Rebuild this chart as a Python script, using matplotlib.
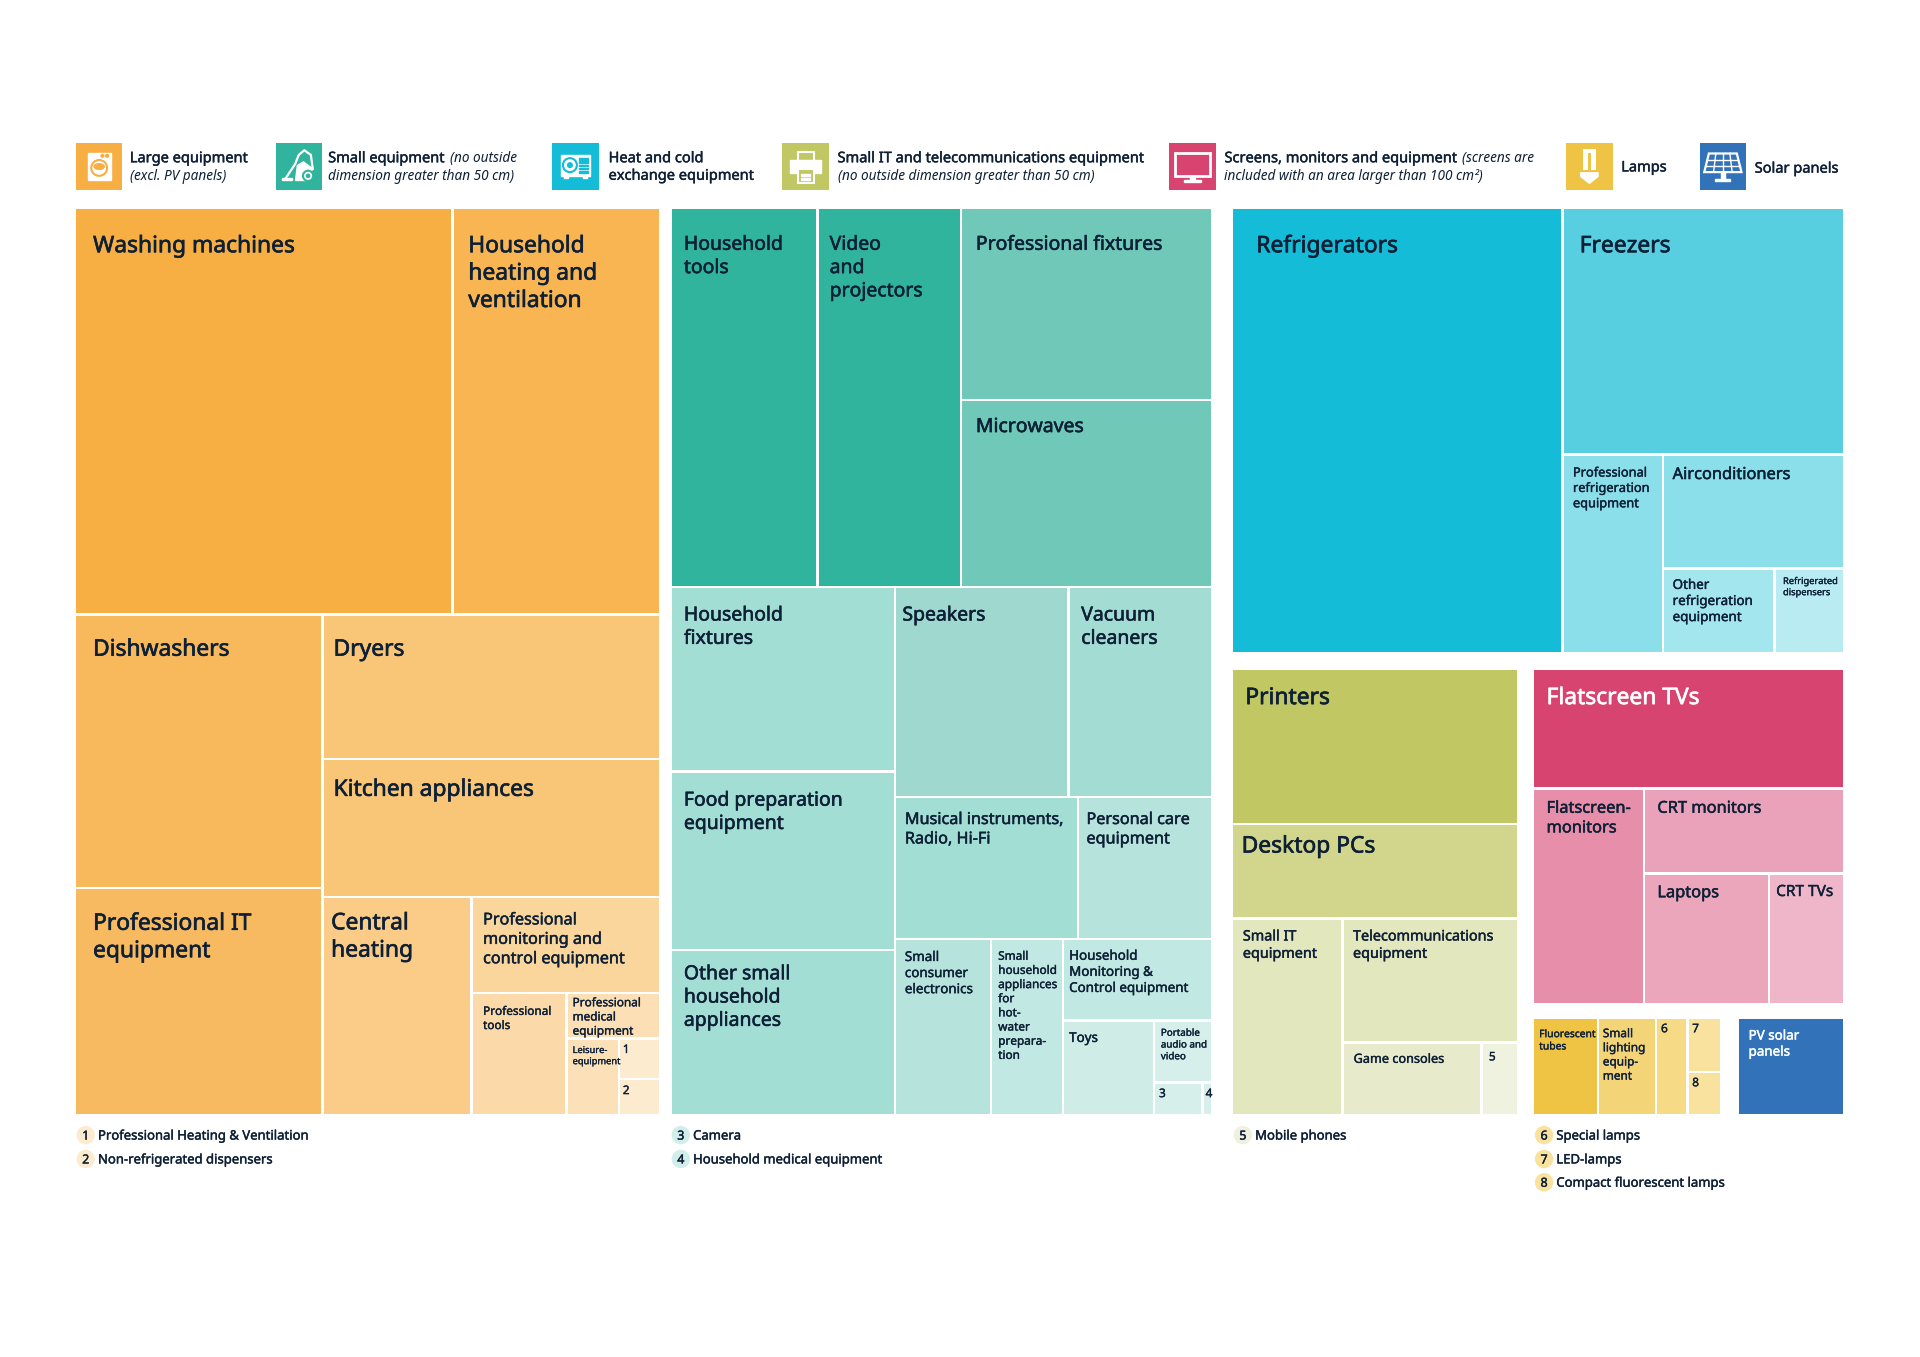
"""
Treemap of e-waste categories, one block per collection category
"""

import matplotlib
matplotlib.use("Agg")
import matplotlib.pyplot as plt
import matplotlib.patheffects as pe
from matplotlib.patches import Rectangle, Circle, Polygon, Ellipse

plt.rcParams['font.family'] = ['Noto Sans', 'DejaVu Sans']

# Data (areas, arbitrary units)
large_labels = ["Washing machines", "Household\nheating and\nventilation", "Dishwashers",
                "Professional IT\nequipment", "Dryers", "Kitchen appliances", "Central\nheating",
                "Professional\nmonitoring and\ncontrol equipment", "Professional\ntools",
                "Professional\nmedical\nequipment", "Leisure-\nequipment", "1", "2"]
large_values = [101.8, 55.8, 45.0, 37.2, 32.4, 30.9, 21.6, 12.0, 7.7, 2.8, 2.67, 1.07, 0.94]

small_labels = ["Household\ntools", "Video\nand\nprojectors", "Professional fixtures", "Microwaves",
                "Household\nfixtures", "Food preparation\nequipment", "Other small\nhousehold\nappliances",
                "Speakers", "Vacuum\ncleaners", "Musical instruments,\nRadio, Hi-Fi", "Personal care\nequipment",
                "Small\nconsumer\nelectronics", "Small\nhousehold\nappliances\nfor\nhot-\nwater\nprepara-\ntion",
                "Household\nMonitoring &\nControl equipment", "Toys", "Portable\naudio and\nvideo", "3", "4"]
small_values = [36.7, 36.2, 31.8, 31.1, 27.5, 26.6, 24.5, 24.3, 20.0, 17.3, 12.6, 11.2, 8.44, 8.05,
                5.70, 2.35, 1.03, 0.18]

heat_labels = ["Refrigerators", "Freezers", "Professional\nrefrigeration\nequipment", "Airconditioners",
               "Other\nrefrigeration\nequipment", "Refrigerated\ndispensers"]
heat_values = [97.2, 45.8, 13.2, 13.7, 6.2, 3.8]

it_labels = ["Printers", "Desktop PCs", "Small IT\nequipment", "Telecommunications\nequipment",
             "Game consoles", "5"]
it_values = [29.1, 17.9, 14.3, 14.4, 6.64, 1.67]

screen_labels = ["Flatscreen TVs", "Flatscreen-\nmonitors", "CRT monitors", "Laptops", "CRT TVs"]
screen_values = [24.4, 15.7, 11.3, 10.8, 6.4]

lamp_labels = ["Fluorescent\ntubes", "Small\nlighting\nequip-\nment", "6", "7", "8"]
lamp_values = [4.06, 3.71, 1.99, 1.18, 0.93]

solar_labels = ["PV solar\npanels"]
solar_values = [6.63]

legend_names = ["Large equipment", "Small equipment", "Heat and cold\nexchange equipment",
                "Small IT and telecommunications equipment", "Screens, monitors and equipment", "Lamps",
                "Solar panels"]
footnotes = [["1", "Professional Heating & Ventilation"], ["2", "Non-refrigerated dispensers"],
             ["3", "Camera"], ["4", "Household medical equipment"], ["5", "Mobile phones"],
             ["6", "Special lamps"], ["7", "LED-lamps"], ["8", "Compact fluorescent lamps"]]

# Layout: the picture is measured at 1568 px wide, S scales up to 1920
S = 1920 / 1568
DARK = "#0e2036"
GAP = 1.25  # half of the white gap between cells, px
A, B, C, D, E, F = 22.8, 19.4, 16.2, 13.4, 11.8, 9.3

# split trees, "h" = side by side, "v" = stacked, ints are leaf indexes
large_tree = ("v", [("h", [0, 1]),
                    ("h", [("v", [2, 3]),
                           ("v", [4, 5, ("h", [6, ("v", [7, ("h", [8, ("v", [9, ("h", [10, ("v", [11, 12])])])])])])])])])
small_tree = ("v", [("h", [0, 1, ("v", [2, 3])]),
                    ("h", [("v", [4, 5, 6]),
                           ("v", [("h", [7, 8]), ("h", [9, 10]),
                                  ("h", [11, 12, ("v", [13, ("h", [14, ("v", [15, ("h", [16, 17])])])])])])])])
heat_tree = ("h", [0, ("v", [1, ("h", [2, ("v", [3, ("h", [4, 5])])])])])
it_tree = ("v", [0, 1, ("h", [2, ("v", [3, ("h", [4, 5])])])])
screen_tree = ("v", [0, ("h", [1, ("v", [2, ("h", [3, 4])])])])
lamp_tree = ("h", [0, 1, 2, ("v", [3, 4])])
solar_tree = 0

large_colors = ["#F7AE42", "#F8B552", "#F8B95C", "#F8BA60", "#F9C677", "#F9C678", "#FACC87", "#FBD69C",
                "#FBD9A8", "#FCDFB5", "#FCE0B7", "#FDEBD0", "#FDEBD0"]
small_colors = ["#31B49D", "#31B49D", "#6FC8B8", "#6FC8B8", "#A3DED5", "#A3DED5", "#A3DED5", "#9ED8CF",
                "#A3DCD2", "#A3DED5", "#B6E3DC", "#B6E3DC", "#C1E8E2", "#C1E8E2", "#CFECE7", "#D6EFEB",
                "#D6EFEB", "#D6EFEB"]
heat_colors = ["#14BCD8", "#58CFE1", "#8ADFEA", "#8ADFEA", "#A3E6EE", "#B8EBF2"]
it_colors = ["#C0C763", "#D1D68C", "#E3E7BE", "#E3E7BE", "#E8EBCB", "#F0F2E0"]
screen_colors = ["#D74470", "#E68EAA", "#E9A2BA", "#EBA6BC", "#EEB6C8"]
lamp_colors = ["#EFC445", "#F3D477", "#F6DA86", "#F9E29E", "#F9E29E"]
solar_colors = ["#3272B8"]

large_sizes = [A, A, A, A, A, A, A, C, E, E, F, E, E]
small_sizes = [B, B, B, B, B, B, B, B, B, C, C, D, E, D, D, F + 0.5, E, E]
heat_sizes = [A, A, E + 1, D + 3, D, F]
it_sizes = [A, A, D + 1, D + 1, D - 0.7, E]
screen_sizes = [A, D + 3, D + 3, D + 3, D + 2]
lamp_sizes = [F + 1, E, E, E, E]
solar_sizes = [D]

# label offsets from the top left corner of a cell, first baseline
large_pads = [(14, 35), (13, 35), (14, 33.5), (14, 34), (9, 33.5), (9, 30), (7, 26.5), (9.5, 22.5), (9.5, 18),
              (5, 11), (5, 12), (3, 12), (3, 12.5)]
small_pads = [(10, 33), (10, 33), (12, 33), (12, 26), (10, 27.5), (10, 28), (10, 24), (6, 27.5), (10.5, 27.5),
              (8, 22), (7, 22), (8, 18), (6, 17), (5, 17), (5, 17.5), (5.5, 12.5), (4, 12), (2.5, 12)]
heat_pads = [(19, 35), (14, 35), (8.5, 18), (8, 20), (8, 16.5), (7, 12.5)]
it_pads = [(10, 28), (7, 23.5), (8, 18), (8.5, 18), (9, 16.5), (6, 14.5)]
screen_pads = [(10, 28), (10, 20), (11, 20), (11, 19.5), (6, 18.5)]
lamp_pads = [(4, 15), (4, 15), (4, 11), (4, 11), (4, 11.5)]
solar_pads = [(8, 17)]

# outer frames x0, y0, x1, y1
large_box = (62, 171, 538, 910)
small_box = (548.5, 171, 989, 910)
heat_box = (1007, 171, 1505, 532.5)
it_box = (1007, 547, 1238.5, 910)
screen_box = (1253, 547, 1505, 819)
lamp_box = (1253, 832, 1405, 910)
solar_box = (1420, 832, 1505, 910)


def heavy(size, color=DARK):
    """Thin outline, the installed font has no medium weight"""
    return [pe.withStroke(linewidth=0.018 * size + 0.05, foreground=color)]


def node_total(node, values):
    """Sum of the values below a tree node"""
    if isinstance(node, int):
        return values[node]
    return sum(node_total(c, values) for c in node[1])


def layout(node, values, box, out):
    """Slice and dice: split the box by child totals"""
    if isinstance(node, int):
        out[node] = box
        return
    x0, y0, x1, y1 = box
    total = node_total(node, values)
    pos = x0 if node[0] == "h" else y0
    for child in node[1]:
        frac = node_total(child, values) / total
        if node[0] == "h":
            nxt = pos + frac * (x1 - x0)
            layout(child, values, (pos, y0, nxt, y1), out)
        else:
            nxt = pos + frac * (y1 - y0)
            layout(child, values, (x0, pos, x1, nxt), out)
        pos = nxt


def put_text(ax, x, y, text, size, color=DARK, step=1.2):
    """Multi line text with a fixed line step, y is the first baseline (px)"""
    for i, line in enumerate(text.split("\n")):
        ax.text(x, y + i * step * size, line, fontsize=size * 0.72, color=color, ha="left", va="baseline",
                path_effects=heavy(size, color))


def draw_block(ax, tree, values, labels, colors, sizes, pads, box, white=()):
    rects = {}
    layout(tree, values, box, rects)
    for i, (x0, y0, x1, y1) in rects.items():
        # only inner edges get the white gap, the block keeps its outer frame
        left = x0 * S + (GAP if x0 > box[0] + 0.01 else 0)
        top = y0 * S + (GAP if y0 > box[1] + 0.01 else 0)
        right = x1 * S - (GAP if x1 < box[2] - 0.01 else 0)
        bottom = y1 * S - (GAP if y1 < box[3] - 0.01 else 0)
        ax.add_patch(Rectangle((left, top), right - left, bottom - top, facecolor=colors[i], linewidth=0))
        col = "white" if i in white else DARK
        put_text(ax, (x0 + pads[i][0]) * S, (y0 + pads[i][1]) * S, labels[i], sizes[i], color=col)


def icon_washer(ax, x, y, s, bg):
    ax.add_patch(Rectangle((x + .25 * s, y + .2 * s), .5 * s, .6 * s, color="white"))
    ax.add_patch(Circle((x + .5 * s, y + .53 * s), .17 * s, facecolor="white", edgecolor=bg, lw=1.5))
    ax.add_patch(Ellipse((x + .5 * s, y + .5 * s), .22 * s, .12 * s, color=bg))
    ax.add_patch(Circle((x + .57 * s, y + .27 * s), .03 * s, color=bg))
    ax.add_patch(Circle((x + .67 * s, y + .27 * s), .03 * s, color=bg))


def icon_vacuum(ax, x, y, s, bg):
    ax.plot([x + .2 * s, x + .42 * s, x + .5 * s, x + .62 * s, x + .76 * s, x + .8 * s],
            [y + .78 * s, y + .45 * s, y + .25 * s, y + .15 * s, y + .25 * s, y + .55 * s], color="white", lw=1.6)
    ax.add_patch(Rectangle((x + .15 * s, y + .74 * s), .2 * s, .05 * s, color="white"))
    ax.add_patch(Polygon([(x + .43 * s, y + .8 * s), (x + .47 * s, y + .48 * s), (x + .6 * s, y + .4 * s),
                          (x + .8 * s, y + .55 * s), (x + .66 * s, y + .8 * s)], color="white"))
    ax.add_patch(Circle((x + .7 * s, y + .7 * s), .11 * s, facecolor="white", edgecolor=bg, lw=1.5))
    ax.add_patch(Circle((x + .7 * s, y + .7 * s), .035 * s, color=bg))


def icon_ac(ax, x, y, s, bg):
    ax.add_patch(Rectangle((x + .18 * s, y + .25 * s), .64 * s, .45 * s, color="white"))
    ax.add_patch(Circle((x + .38 * s, y + .47 * s), .15 * s, facecolor="white", edgecolor=bg, lw=1.5))
    ax.add_patch(Circle((x + .38 * s, y + .47 * s), .05 * s, color=bg))
    ax.add_patch(Rectangle((x + .25 * s, y + .7 * s), .08 * s, .05 * s, color="white"))
    ax.add_patch(Rectangle((x + .67 * s, y + .7 * s), .08 * s, .05 * s, color="white"))
    for k in range(5):
        ax.add_patch(Rectangle((x + .58 * s, y + (.32 + k * .07) * s), .18 * s, .03 * s, color=bg))


def icon_printer(ax, x, y, s, bg):
    ax.add_patch(Rectangle((x + .33 * s, y + .18 * s), .34 * s, .2 * s, facecolor=bg, edgecolor="white", lw=1.5))
    ax.add_patch(Rectangle((x + .17 * s, y + .36 * s), .66 * s, .28 * s, color="white"))
    ax.add_patch(Rectangle((x + .33 * s, y + .55 * s), .34 * s, .3 * s, facecolor=bg, edgecolor="white", lw=1.5))
    ax.add_patch(Rectangle((x + .4 * s, y + .66 * s), .2 * s, .04 * s, color="white"))
    ax.add_patch(Rectangle((x + .4 * s, y + .74 * s), .2 * s, .04 * s, color="white"))


def icon_screen(ax, x, y, s, bg):
    ax.add_patch(Rectangle((x + .13 * s, y + .2 * s), .74 * s, .5 * s, facecolor=bg, edgecolor="white", lw=2))
    ax.add_patch(Rectangle((x + .45 * s, y + .7 * s), .1 * s, .08 * s, color="white"))
    ax.add_patch(Rectangle((x + .32 * s, y + .78 * s), .36 * s, .05 * s, color="white"))


def icon_lamp(ax, x, y, s, bg):
    ax.add_patch(Rectangle((x + .36 * s, y + .12 * s), .28 * s, .46 * s, facecolor="white", lw=0))
    ax.add_patch(Rectangle((x + .46 * s, y + .2 * s), .08 * s, .38 * s, facecolor=bg, lw=0))
    ax.add_patch(Polygon([(x + .3 * s, y + .62 * s), (x + .7 * s, y + .62 * s), (x + .7 * s, y + .72 * s),
                          (x + .5 * s, y + .88 * s), (x + .3 * s, y + .72 * s)], facecolor="white", lw=0))


def icon_solar(ax, x, y, s, bg):
    ax.add_patch(Polygon([(x + .2 * s, y + .22 * s), (x + .8 * s, y + .22 * s), (x + .9 * s, y + .62 * s),
                          (x + .1 * s, y + .62 * s)], facecolor=bg, edgecolor="white", lw=1.6))
    for k in range(1, 4):
        ax.plot([x + (.2 + k * .15) * s, x + (.1 + k * .2) * s], [y + .22 * s, y + .62 * s], color="white", lw=1)
    for k in range(1, 3):
        ax.plot([x + (.2 - k * .033) * s, x + (.8 + k * .033) * s], [y + (.22 + k * .133) * s] * 2, color="white", lw=1)
    ax.add_patch(Rectangle((x + .46 * s, y + .62 * s), .08 * s, .14 * s, color="white"))
    ax.add_patch(Rectangle((x + .34 * s, y + .76 * s), .32 * s, .05 * s, color="white"))


def draw_legend(ax):
    xs = [62, 225, 451, 639, 955, 1279, 1388]
    text_xs = [106, 268, 497, 684, 1000, 1324, 1433]
    cols = ["#F7AE42", "#31B49D", "#14BCD8", "#C0C763", "#D74470", "#EFC445", "#3272B8"]
    icons = [icon_washer, icon_vacuum, icon_ac, icon_printer, icon_screen, icon_lamp, icon_solar]
    notes = ["(excl. PV panels)", "dimension greater than 50 cm)", None, "(no outside dimension greater than 50 cm)",
             "included with an area larger than 100 cm²)", None, None]
    inline = [None, "(no outside", None, None, "(screens are", None, None]
    fs = 14.6
    renderer = ax.figure.canvas.get_renderer()
    for i, name in enumerate(legend_names):
        s = 38 * S
        ax.add_patch(Rectangle((xs[i] * S, 117 * S), s, s, color=cols[i], lw=0))
        icons[i](ax, xs[i] * S, 117 * S, s, cols[i])
        tx = text_xs[i] * S
        if i in (5, 6):
            put_text(ax, tx, (140 if i == 5 else 141) * S, name, fs)
        elif i == 2:
            put_text(ax, tx, 132.5 * S, name, fs)
        else:
            t = ax.text(tx, 132.5 * S, name, fontsize=fs * 0.72, color=DARK, va="baseline", path_effects=heavy(fs))
            if inline[i]:
                bb = t.get_window_extent(renderer)
                ax.text(bb.x1 + 5, 132.5 * S, inline[i], fontsize=(fs - 1) * 0.72, color=DARK, fontstyle="italic",
                        va="baseline")
            ax.text(tx, 147 * S, notes[i] or "", fontsize=(fs - 1) * 0.72, color=DARK, fontstyle="italic",
                    va="baseline")


def draw_footnotes(ax):
    spots = [(70, 927), (70, 946.5), (556, 927), (556, 946.5), (1015, 927), (1261, 927), (1261, 946.5), (1261, 965.5)]
    tints = ["#FDEBD0", "#FDEBD0", "#D2EEEA", "#D2EEEA", "#EFF1DE", "#F9E29E", "#F9E29E", "#F9E29E"]
    for (num, name), (cx, cy), tint in zip(footnotes, spots, tints):
        ax.add_patch(Circle((cx * S, cy * S), 7.5 * S, color=tint, lw=0))
        ax.text(cx * S, cy * S + 1, num, fontsize=12.5 * 0.72, color=DARK, ha="center", va="center",
                path_effects=heavy(12.5))
        ax.text((cx + 10) * S, cy * S + 1, name, fontsize=13.1 * 0.72, color=DARK, va="center",
                path_effects=heavy(13))


def main():
    fig = plt.figure(figsize=(19.2, 13.57), dpi=100)
    ax = fig.add_axes([0, 0, 1, 1])
    ax.set_xlim(0, 1920)
    ax.set_ylim(1357, 0)
    ax.axis("off")

    draw_legend(ax)
    draw_block(ax, large_tree, large_values, large_labels, large_colors, large_sizes, large_pads, large_box)
    draw_block(ax, small_tree, small_values, small_labels, small_colors, small_sizes, small_pads, small_box)
    draw_block(ax, heat_tree, heat_values, heat_labels, heat_colors, heat_sizes, heat_pads, heat_box)
    draw_block(ax, it_tree, it_values, it_labels, it_colors, it_sizes, it_pads, it_box)
    draw_block(ax, screen_tree, screen_values, screen_labels, screen_colors, screen_sizes, screen_pads, screen_box,
               white=(0,))
    draw_block(ax, lamp_tree, lamp_values, lamp_labels, lamp_colors, lamp_sizes, lamp_pads, lamp_box)
    draw_block(ax, solar_tree, solar_values, solar_labels, solar_colors, solar_sizes, solar_pads, solar_box,
               white=(0,))
    draw_footnotes(ax)

    fig.savefig("out.png", dpi=100)


if __name__ == "__main__":
    main()
